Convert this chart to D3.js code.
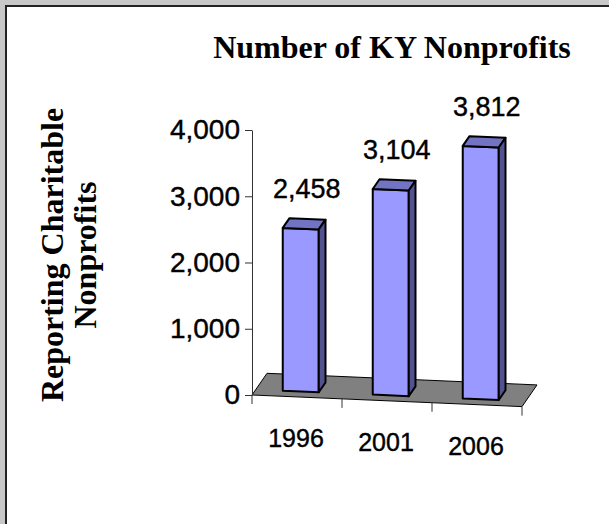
<!DOCTYPE html>
<html>
<head>
<meta charset="utf-8">
<script src="https://cdn.jsdelivr.net/npm/d3@7"></script>
<style>
  html, body { margin: 0; padding: 0; background: #c8c8c8; }
  svg { display: block; }
</style>
</head>
<body>
<div id="chart"></div>
<script>
// chart values
const years = ["1996", "2001", "2006"];
const counts = [2458, 3104, 3812];
const yTicks = [0, 1000, 2000, 3000, 4000];

const width = 609;
const height = 524;
const sans = "'Liberation Sans', Arial, sans-serif";
const serif = "'Liberation Serif', 'Times New Roman', serif";

// fake 3d: floor front edge runs along u, depth d goes 0..1 into the page
const X0 = 252, Y0 = 395;
const slope = 0.043;          // floor front edge tilts down to the right
const DX = 15, DY = -21.7;    // full floor depth
const barFront = 0.25, barBack = 0.7;

const x = d3.scaleBand().domain(years).range([0, 270])
  .paddingInner(0.6).paddingOuter(0.3);
const h = d3.scaleLinear().domain([0, 4000]).range([0, 265]);
const yAxisScale = d3.scaleLinear().domain([0, 4000]).range([Y0, Y0 - 265]);

function proj(u, d, v){
  return [X0 + u + d*DX, Y0 + u*slope + d*DY - v];
}
const poly = pts => pts.map(p=>p.join(",")).join(" ");

const svg = d3.select("#chart").append("svg")
  .attr("width", width).attr("height", height);

// panel frame
svg.append("rect").attr("x", 0).attr("y", 0).attr("width", width).attr("height", height).attr("fill", "#c8c8c8");
svg.append("rect").attr("x", 5).attr("y", 5).attr("width", width).attr("height", height).attr("fill", "#222");
svg.append("rect").attr("x", 7).attr("y", 7).attr("width", width).attr("height", height).attr("fill", "#fff");

// floor
const span = x.range()[1];
svg.append("polygon")
  .attr("points", poly([proj(0,0,0), proj(span,0,0), proj(span,1,0), proj(0,1,0)]))
  .attr("fill", "#808080")
  .attr("stroke", "#000")
  .attr("stroke-width", 1);

// category ticks below the floor's front edge
const step = x.step();
d3.range(years.length + 1).forEach(i=>{
  const p = proj(i*step, 0, 0);
  svg.append("line")
    .attr("x1", p[0]).attr("y1", p[1])
    .attr("x2", p[0]).attr("y2", p[1] + 9)
    .attr("stroke", "#333").attr("stroke-width", 1);
});

// value axis
const yAxis = svg.append("g")
  .attr("transform", `translate(${X0},0)`)
  .call(d3.axisLeft(yAxisScale).tickValues(yTicks).tickFormat(d3.format(",")).tickSize(7).tickSizeOuter(0).tickPadding(5));
yAxis.select(".domain").attr("stroke", "#333");
yAxis.selectAll(".tick line").attr("stroke", "#333");
yAxis.selectAll(".tick text")
  .attr("font-family", sans)
  .attr("font-size", 28)
  .attr("fill", "#000")
  .attr("stroke", "#000").attr("stroke-width", 0.4);

// bars
const bars = svg.append("g");
years.forEach((yr, i)=>{
  const u0 = x(yr), u1 = x(yr) + x.bandwidth();
  const v = h(counts[i]);
  const g = bars.append("g")
    .attr("stroke", "#000").attr("stroke-width", 2).attr("stroke-linejoin", "round");
  // front
  g.append("polygon").attr("fill", "#9999ff")
    .attr("points", poly([proj(u0,barFront,0), proj(u1,barFront,0), proj(u1,barFront,v), proj(u0,barFront,v)]));
  // top
  g.append("polygon").attr("fill", "#7373c4")
    .attr("points", poly([proj(u0,barFront,v), proj(u1,barFront,v), proj(u1,barBack,v), proj(u0,barBack,v)]));
  // right side
  g.append("polygon").attr("fill", "#525290")
    .attr("points", poly([proj(u1,barFront,0), proj(u1,barBack,0), proj(u1,barBack,v), proj(u1,barFront,v)]));

  // value label
  const c = proj((u0+u1)/2, barFront, v);
  const back = proj((u0+u1)/2, barBack, v);
  svg.append("text")
    .attr("x", c[0] + 6).attr("y", back[1] - 21)
    .attr("text-anchor", "middle")
    .attr("font-family", sans)
    .attr("font-size", 27)
    .attr("stroke", "#000").attr("stroke-width", 0.4)
    .text(d3.format(",")(counts[i]));

  // category label
  const f = proj((u0+u1)/2, 0, 0);
  svg.append("text")
    .attr("x", f[0] - 1).attr("y", f[1] + 50)
    .attr("text-anchor", "middle")
    .attr("font-family", sans)
    .attr("font-size", 25)
    .attr("stroke", "#000").attr("stroke-width", 0.4)
    .text(yr);
});

// title
svg.append("text")
  .attr("x", 392).attr("y", 58)
  .attr("text-anchor", "middle")
  .attr("font-family", serif)
  .attr("font-weight", "bold")
  .attr("font-size", 32)
  .text("Number of KY Nonprofits");

// value axis title, two lines
const yTitle = svg.append("text")
  .attr("transform", "translate(0,255) rotate(-90)")
  .attr("text-anchor", "middle")
  .attr("font-family", serif)
  .attr("font-weight", "bold")
  .attr("font-size", 32);
yTitle.append("tspan").attr("x", 0).attr("y", 63).text("Reporting Charitable");
yTitle.append("tspan").attr("x", 0).attr("y", 96).text("Nonprofits");
</script>
</body>
</html>
